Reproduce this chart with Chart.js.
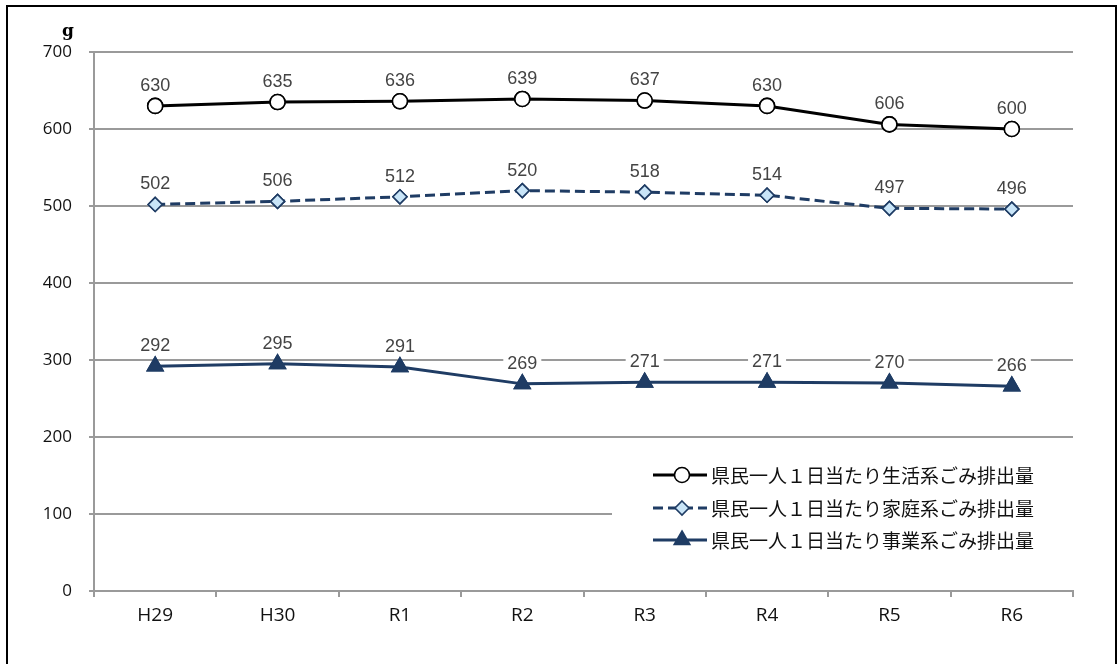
<!DOCTYPE html>
<html lang="ja">
<head>
<meta charset="utf-8">
<title>県民一人1日当たりごみ排出量</title>
<script src="https://cdn.jsdelivr.net/npm/chart.js@4/dist/chart.umd.min.js"></script>
<style>
  html, body { margin: 0; padding: 0; background: #ffffff; }
  #wrap { width: 1119px; height: 664px; position: relative; }
</style>
</head>
<body>
<div id="wrap"><canvas id="c" width="1119" height="664"></canvas></div>
<script>
// 年度
const categories = ['H29', 'H30', 'R1', 'R2', 'R3', 'R4', 'R5', 'R6'];
// 県民一人1日当たりのごみ排出量 (g)
const lifeWaste = [630, 635, 636, 639, 637, 630, 606, 600];
const householdWaste = [502, 506, 512, 520, 518, 514, 497, 496];
const businessWaste = [292, 295, 291, 269, 271, 271, 270, 266];
const seriesNames = [
  '県民一人１日当たり生活系ごみ排出量',
  '県民一人１日当たり家庭系ごみ排出量',
  '県民一人１日当たり事業系ごみ排出量'
];
const yTicks = [0, 100, 200, 300, 400, 500, 600, 700];
const unitLabel = 'g';

const NAVY = '#1F3C64';
const GRID = '#9A9A9A';

// marker shapes shared by the chart and the legend
function drawMarker(ctx, style, x, y, r, fill, stroke, lw) {
  ctx.save();
  ctx.setLineDash([]);
  ctx.beginPath();
  if (style === 'circle') {
    ctx.arc(x, y, r, 0, Math.PI * 2);
  } else if (style === 'rectRot') {
    ctx.moveTo(x, y - r); ctx.lineTo(x + r, y); ctx.lineTo(x, y + r); ctx.lineTo(x - r, y);
    ctx.closePath();
  } else if (style === 'triangle') {
    ctx.moveTo(x, y - r); ctx.lineTo(x + r * 0.866, y + r * 0.5); ctx.lineTo(x - r * 0.866, y + r * 0.5);
    ctx.closePath();
  }
  ctx.fillStyle = fill; ctx.fill();
  ctx.lineWidth = lw; ctx.strokeStyle = stroke; ctx.stroke();
  ctx.restore();
}

// outer frame, unit label, value labels and legend
const decorations = {
  id: 'decorations',
  afterDatasetsDraw(chart) {
    const ctx = chart.ctx;
    // value labels on white backing
    ctx.save();
    ctx.font = '18px "Liberation Sans", Arial, sans-serif';
    ctx.textAlign = 'center';
    ctx.textBaseline = 'middle';
    chart.data.datasets.forEach((ds, i) => {
      const meta = chart.getDatasetMeta(i);
      meta.data.forEach((pt, j) => {
        const txt = String(ds.data[j]);
        const w = ctx.measureText(txt).width;
        const ly = pt.y - 21;
        ctx.fillStyle = '#ffffff';
        ctx.fillRect(pt.x - w / 2 - 4, ly - 9, w + 8, 18);
        ctx.fillStyle = '#444444';
        ctx.fillText(txt, pt.x, ly + 1);
      });
    });
    ctx.restore();

    // legend box
    ctx.save();
    ctx.fillStyle = '#ffffff';
    ctx.fillRect(612, 454, 462, 108);
    const rows = [475, 508, 540];
    const x0 = 653, x1 = 707, mx = 682;
    chart.data.datasets.forEach((ds, i) => {
      const y = rows[i];
      ctx.save();
      ctx.strokeStyle = ds.borderColor;
      ctx.lineWidth = 3;
      ctx.setLineDash(ds.borderDash || []);
      ctx.beginPath(); ctx.moveTo(x0, y); ctx.lineTo(x1, y); ctx.stroke();
      ctx.restore();
      drawMarker(ctx, ds.pointStyle, mx, y, ds.pointRadius, ds.pointBackgroundColor, ds.pointBorderColor, ds.pointBorderWidth);
      ctx.fillStyle = '#111111';
      ctx.font = '19px "Noto Sans CJK JP", sans-serif';
      ctx.textAlign = 'left';
      ctx.textBaseline = 'middle';
      ctx.fillText(ds.label, 711, y + 1);
    });
    ctx.restore();

    // unit
    ctx.save();
    ctx.fillStyle = '#000000';
    ctx.font = 'bold 17px "DejaVu Serif", serif';
    ctx.textAlign = 'center';
    ctx.textBaseline = 'alphabetic';
    ctx.fillText(unitLabel, 68, 36);
    ctx.restore();
  },
  afterDraw(chart) {
    const ctx = chart.ctx;
    ctx.save();
    ctx.strokeStyle = '#000000';
    ctx.lineWidth = 2;
    ctx.strokeRect(7, 6, 1109, 670);
    ctx.restore();
  }
};

// points drawn by the custom marker routine so shapes match the legend
const markers = {
  id: 'markers',
  afterDatasetDraw(chart, args) {
    const ds = chart.data.datasets[args.index];
    args.meta.data.forEach(pt => {
      drawMarker(chart.ctx, ds.pointStyle, pt.x, pt.y, ds.pointRadius, ds.pointBackgroundColor, ds.pointBorderColor, ds.pointBorderWidth);
    });
  }
};

function makeSet(label, data, color, style, fill, radius, dash) {
  return {
    label, data,
    borderColor: color,
    borderWidth: 3,
    borderDash: dash,
    pointStyle: style,
    pointRadius: radius,
    pointBackgroundColor: fill,
    pointBorderColor: color,
    pointBorderWidth: 1.6,
    pointHoverRadius: 0,
    tension: 0,
    fill: false
  };
}

const datasets = [
  makeSet(seriesNames[0], lifeWaste, '#000000', 'circle', '#ffffff', 7.5, []),
  makeSet(seriesNames[1], householdWaste, NAVY, 'rectRot', '#C9E5F8', 7, [10, 5]),
  makeSet(seriesNames[2], businessWaste, NAVY, 'triangle', NAVY, 9, [])
];

new Chart(document.getElementById('c'), {
  type: 'line',
  data: { labels: categories, datasets },
  options: {
    responsive: false,
    animation: false,
    events: [],
    layout: { padding: { left: 0, right: 46, top: 52, bottom: 0 } },
    plugins: {
      legend: { display: false },
      tooltip: { enabled: false }
    },
    scales: {
      x: {
        type: 'category',
        offset: true,
        grid: {
          offset: true,
          drawOnChartArea: false,
          drawTicks: true,
          tickLength: 6,
          color: GRID,
          lineWidth: 2
        },
        border: { display: true, color: GRID, width: 2 },
        ticks: {
          padding: 7,
          color: '#111111',
          font: { family: '"Open Sans", sans-serif', size: 19 },
          maxRotation: 0
        },
        afterFit(scale) { scale.height = 73; }
      },
      y: {
        min: 0,
        max: 700,
        afterBuildTicks(scale) { scale.ticks = yTicks.map(v => ({ value: v })); },
        grid: {
          color: GRID,
          lineWidth: 2,
          drawTicks: true,
          tickLength: 5
        },
        border: { display: true, color: GRID, width: 2 },
        ticks: {
          padding: 17,
          color: '#111111',
          font: { family: '"Open Sans", sans-serif', size: 17 }
        },
        afterFit(scale) { scale.width = 94; }
      }
    }
  },
  plugins: [markers, decorations]
});
</script>
</body>
</html>
